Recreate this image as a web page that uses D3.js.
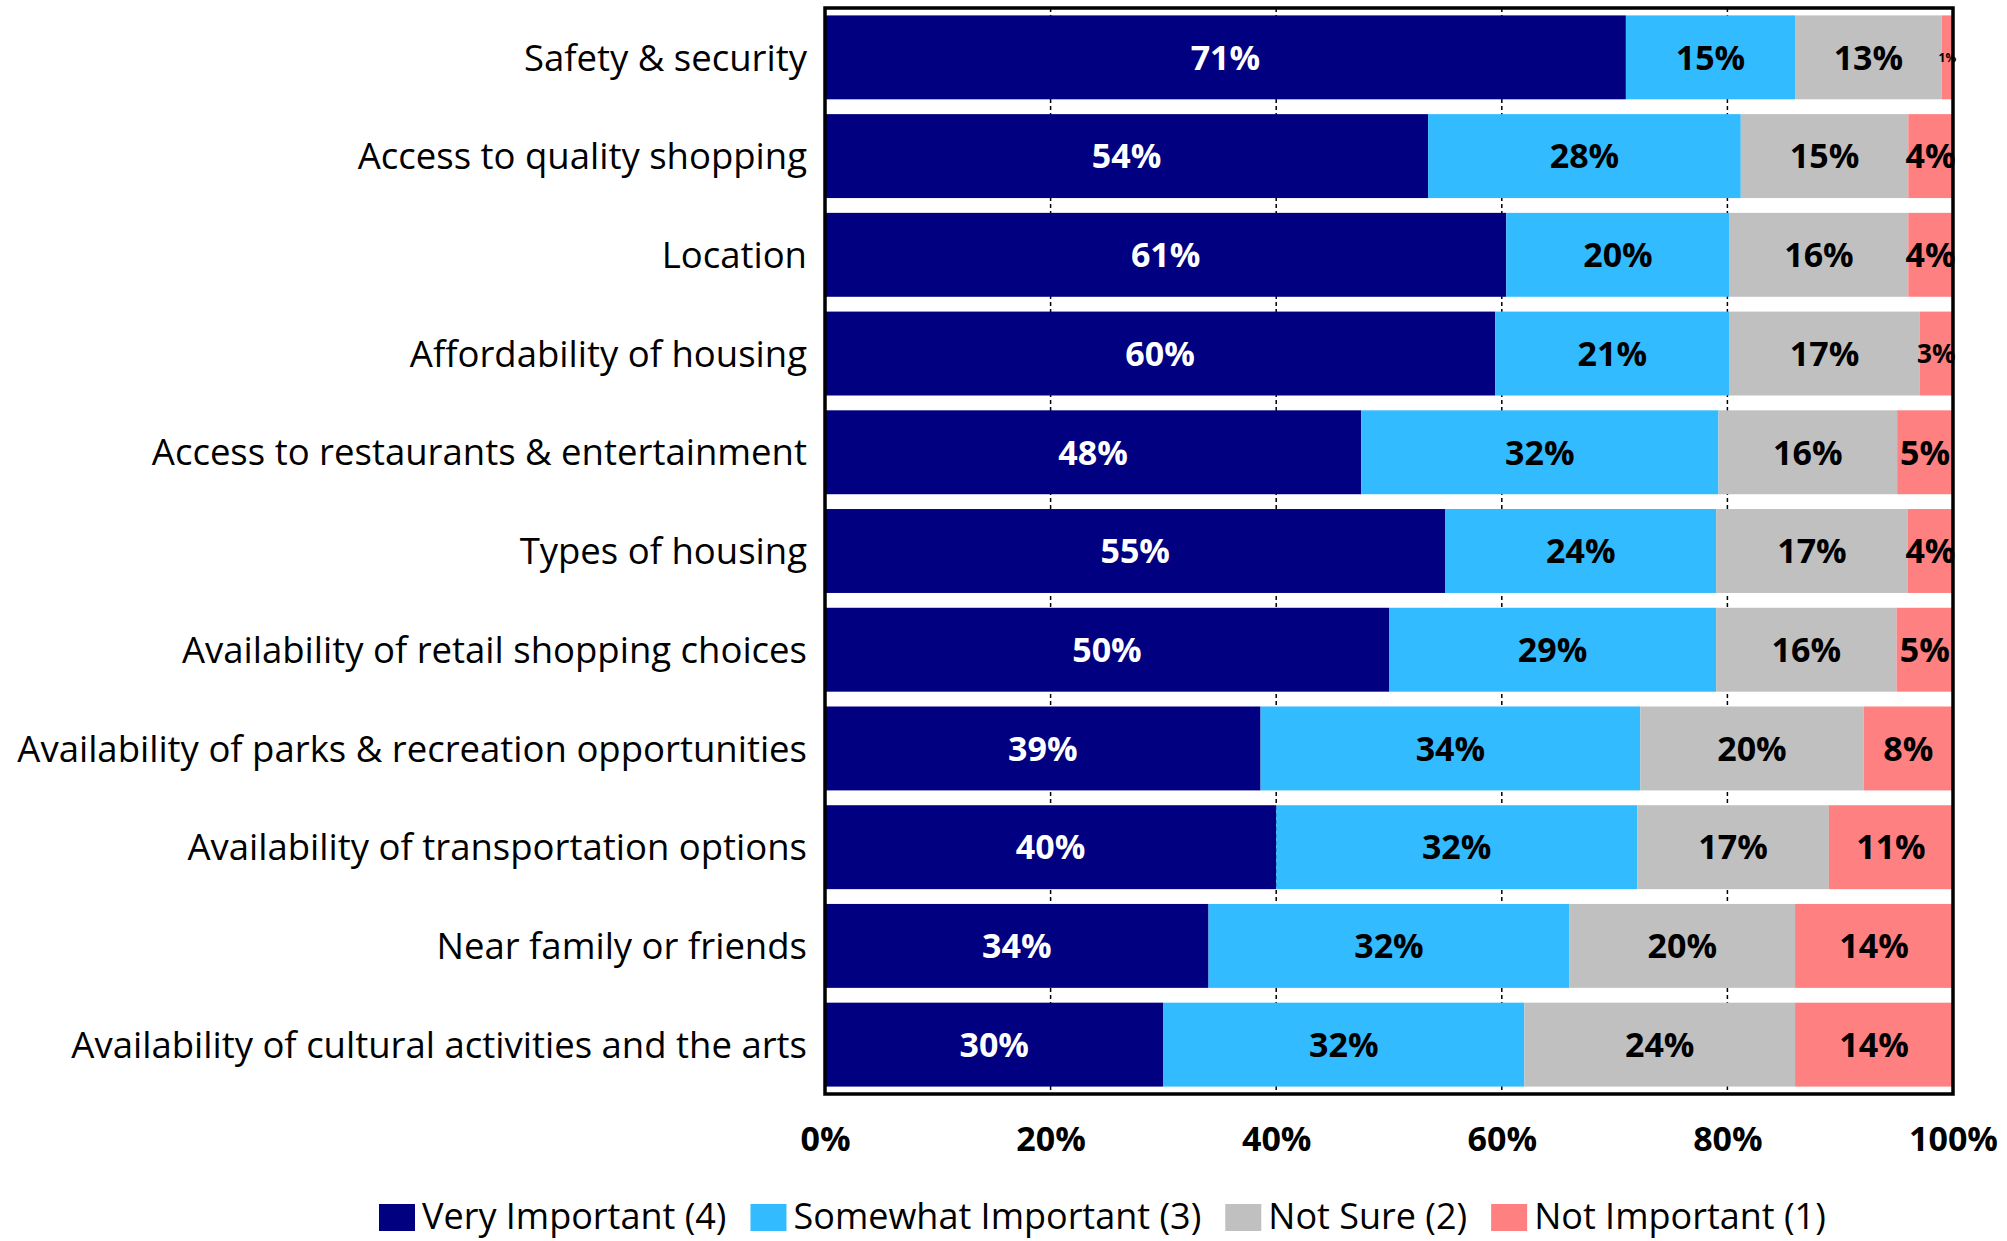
<!DOCTYPE html>
<html>
<head>
<meta charset="utf-8">
<script src="https://cdn.jsdelivr.net/npm/d3@7"></script>
<style>
  html, body { margin: 0; padding: 0; background: #fff; }
  svg { display: block; }
  text { font-family: "Open Sans", "Liberation Sans", sans-serif; }
</style>
</head>
<body>
<svg id="chart" width="2007" height="1241"></svg>
<script>
// ---- Data ----
const categories = [
  "Safety & security",
  "Access to quality shopping",
  "Location",
  "Affordability of housing",
  "Access to restaurants & entertainment",
  "Types of housing",
  "Availability of retail shopping choices",
  "Availability of parks & recreation opportunities",
  "Availability of transportation options",
  "Near family or friends",
  "Availability of cultural activities and the arts"
];
const veryImportant     = [71, 54, 61, 60, 48, 55, 50, 39, 40, 34, 30];
const somewhatImportant = [15, 28, 20, 21, 32, 24, 29, 34, 32, 32, 32];
const notSure           = [13, 15, 16, 17, 16, 17, 16, 20, 17, 20, 24];
const notImportant      = [ 1,  4,  4,  3,  5,  4,  5,  8, 11, 14, 14];
const seriesNames = ["Very Important (4)", "Somewhat Important (3)", "Not Sure (2)", "Not Important (1)"];
const xTickValues = [0, 0.2, 0.4, 0.6, 0.8, 1.0];

// ---- Styles ----
const colors = ["#000080", "#33BBFF", "#C0C0C0", "#FF8080"];
const labelColors = ["#ffffff", "#000000", "#000000", "#000000"];

const seriesArrays = [veryImportant, somewhatImportant, notSure, notImportant];
const table = categories.map((c, i) => {
  const row = { category: c };
  seriesNames.forEach((s, k) => row[s] = seriesArrays[k][i]);
  return row;
});

const svg = d3.select("#chart");
const plot = { left: 825, right: 1953, top: 8, bottom: 1094 };

const x = d3.scaleLinear().domain([0, 1]).range([plot.left, plot.right]);
const y = d3.scaleBand().domain(categories).range([plot.top, plot.bottom])
  .paddingInner(0.15).paddingOuter(0.075);

const stack = d3.stack().keys(seriesNames).offset(d3.stackOffsetExpand);
const stacked = stack(table);

// gridlines (dashed) behind bars
svg.append("g")
  .selectAll("line")
  .data(xTickValues.filter(v => v > 0 && v < 1))
  .join("line")
  .attr("x1", d => x(d)).attr("x2", d => x(d))
  .attr("y1", plot.top).attr("y2", plot.bottom)
  .attr("stroke", "#000").attr("stroke-width", 1.5)
  .attr("stroke-dasharray", "4,3");

// bars
const layers = svg.append("g").selectAll("g")
  .data(stacked)
  .join("g")
  .attr("fill", (d, i) => colors[i]);

layers.selectAll("rect")
  .data(d => d)
  .join("rect")
  .attr("x", d => x(d[0]))
  .attr("y", d => y(d.data.category))
  .attr("width", d => x(d[1]) - x(d[0]))
  .attr("height", y.bandwidth());

// value labels
const baseLabelSize = 34;
const labelG = svg.append("g");
stacked.forEach((layer, k) => {
  layer.forEach(d => {
    const v = d.data[layer.key];
    const x0 = x(d[0]), x1 = x(d[1]);
    const w = x1 - x0;
    const t = labelG.append("text")
      .attr("x", (x0 + x1) / 2)
      .attr("y", y(d.data.category) + y.bandwidth() / 2)
      .attr("text-anchor", "middle")
      .attr("dy", "0.36em")
      .attr("font-weight", "bold")
      .attr("font-size", baseLabelSize)
      .attr("fill", labelColors[k])
      .text(v + "%");
    const tw = t.node().getComputedTextLength();
    const avail = w * 1.15;
    if (tw > avail) {
      t.attr("font-size", Math.max(12, baseLabelSize * avail / tw));
    }
  });
});

// frame
svg.append("rect")
  .attr("x", plot.left).attr("y", plot.top)
  .attr("width", plot.right - plot.left).attr("height", plot.bottom - plot.top)
  .attr("fill", "none").attr("stroke", "#000").attr("stroke-width", 3.5);

// x axis tick labels
const xAxis = d3.axisBottom(x).tickValues(xTickValues).tickFormat(d3.format(".0%")).tickSize(0).tickPadding(0);
const ax = svg.append("g").attr("transform", `translate(0, ${plot.bottom})`).call(xAxis);
ax.select(".domain").remove();
ax.selectAll("text")
  .attr("font-family", "'Open Sans', sans-serif")
  .attr("font-size", 34).attr("font-weight", "bold").attr("fill", "#000")
  .attr("y", 45).attr("dy", "0.36em");

// category labels
const catSize = 36.5;
const catG = svg.append("g");
categories.forEach(c => {
  catG.append("text")
    .attr("x", 807)
    .attr("y", y(c) + y.bandwidth() / 2)
    .attr("text-anchor", "end")
    .attr("dy", "0.36em")
    .attr("font-size", catSize)
    .attr("fill", "#000")
    .text(c);
});

// legend
const legend = svg.append("g");
let lx = 379;
const ly = 1216;
seriesNames.forEach((s, i) => {
  legend.append("rect")
    .attr("x", lx).attr("y", ly - 12)
    .attr("width", 36).attr("height", 27)
    .attr("fill", colors[i]);
  const t = legend.append("text")
    .attr("x", lx + 43).attr("y", ly)
    .attr("dy", "0.36em")
    .attr("font-size", 36)
    .attr("fill", "#000")
    .text(s);
  lx += 43 + t.node().getComputedTextLength() + 24;
});
</script>
</body>
</html>
